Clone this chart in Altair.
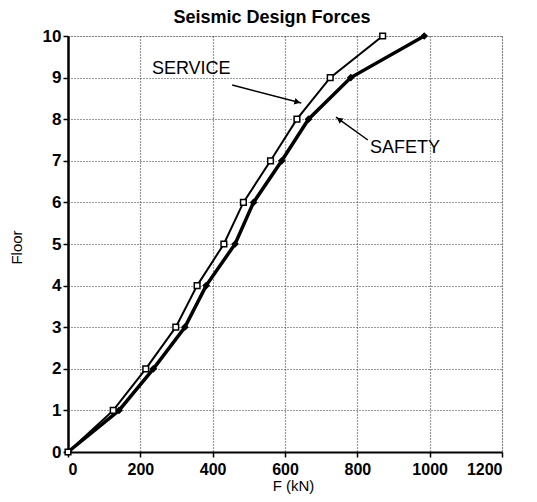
import math
import altair as alt
import pandas as pd

floors = [0, 1, 2, 3, 4, 5, 6, 7, 8, 9, 10]
service = [0, 125, 215, 298, 357, 431, 485, 560, 633, 725, 870]
safety = [0, 141, 236, 323, 382, 462, 513, 591, 665, 782, 985]

labels = ["SERVICE", "SAFETY"]
label_x = [232, 835]
label_y = [9.21, 7.31]
arrow_x0 = [454, 829]
arrow_y0 = [8.82, 7.50]
arrow_x1 = [645, 741]
arrow_y1 = [8.39, 8.05]

W, H = 434, 416
XMAX, YMAX = 1200, 10
px_x = W / XMAX
px_y = H / YMAX

df = pd.DataFrame({"floor": floors * 2,
                   "F": service + safety,
                   "series": ["SERVICE"] * len(floors) + ["SAFETY"] * len(floors)})
lab = pd.DataFrame({"label": labels, "x": label_x, "y": label_y})
arr = pd.DataFrame({"x0": arrow_x0, "y0": arrow_y0, "x1": arrow_x1, "y1": arrow_y1})
heads = []
for a, b, c, d in zip(arrow_x0, arrow_y0, arrow_x1, arrow_y1):
    dxp = (c - a) * px_x
    dyp = -(d - b) * px_y
    L = math.hypot(dxp, dyp)
    ang = math.degrees(math.atan2(dxp, -dyp)) % 360
    back = 4
    hx = c - dxp / L * back / px_x
    hy = d + dyp / L * back / px_y
    heads.append({"x": hx, "y": hy, "angle": ang})
hd = pd.DataFrame(heads)

FONT = "Liberation Sans"
xs = alt.Scale(domain=[0, XMAX], nice=False)
ys = alt.Scale(domain=[0, YMAX], nice=False)

xaxis = alt.Axis(values=list(range(0, 1201, 200)), format="d", title="F (kN)", grid=True,
                 gridDash=[1, 2], gridColor="#333", gridWidth=1.2,
                 domainColor="black", domainWidth=2, tickColor="black", tickSize=5, tickWidth=1.5,
                 labelFont=FONT, labelFontSize=16, labelFontWeight="bold", labelColor="black",
                 labelPadding=4, titleFont=FONT, titleFontSize=15, titleFontWeight="normal",
                 titleColor="black", titleX=225, titleY=33, titleBaseline="middle", titleAlign="center")
yaxis = alt.Axis(values=floors, format="d", title="Floor", grid=True,
                 gridDash=[1, 2], gridColor="#333", gridWidth=1.2,
                 domainColor="black", domainWidth=2.5, tickColor="black", tickSize=5, tickWidth=1.5,
                 labelFont=FONT, labelFontSize=17, labelFontWeight="bold", labelColor="black",
                 labelPadding=2, titleFont=FONT, titleFontSize=15, titleFontWeight="normal",
                 titleColor="black", titleX=-52, titleY=H / 2 + 3, titleAngle=-90,
                 titleBaseline="middle", titleAlign="center")

base = alt.Chart(df)
svc_line = base.transform_filter("datum.series == 'SERVICE'").mark_line(
    color="black", strokeWidth=2).encode(
    x=alt.X("F:Q", scale=xs, axis=xaxis), y=alt.Y("floor:Q", scale=ys, axis=yaxis), order="floor:Q")
saf_line = base.transform_filter("datum.series == 'SAFETY'").mark_line(
    color="black", strokeWidth=3.5).encode(
    x=alt.X("F:Q", scale=xs), y=alt.Y("floor:Q", scale=ys), order="floor:Q")
saf_pts = base.transform_filter("datum.series == 'SAFETY'").mark_point(
    shape="diamond", filled=True, color="black", size=60, opacity=1).encode(
    x=alt.X("F:Q", scale=xs), y=alt.Y("floor:Q", scale=ys))
svc_pts = base.transform_filter("datum.series == 'SERVICE'").mark_point(
    shape="square", filled=True, fill="white", stroke="black", strokeWidth=1.5, size=32, opacity=1).encode(
    x=alt.X("F:Q", scale=xs), y=alt.Y("floor:Q", scale=ys))

texts = alt.Chart(lab).mark_text(font=FONT, fontSize=18, align="left", baseline="middle",
                                 color="black").encode(
    x=alt.X("x:Q", scale=xs), y=alt.Y("y:Q", scale=ys), text="label:N")
arrows = alt.Chart(arr).mark_rule(color="black", strokeWidth=1.5).encode(
    x=alt.X("x0:Q", scale=xs), y=alt.Y("y0:Q", scale=ys), x2="x1:Q", y2="y1:Q")
arrowheads = alt.Chart(hd).mark_point(shape="triangle-up", filled=True, color="black",
                                      size=45, opacity=1).encode(
    x=alt.X("x:Q", scale=xs), y=alt.Y("y:Q", scale=ys), angle=alt.Angle("angle:Q", scale=None))

chart = alt.layer(svc_line, saf_line, saf_pts, svc_pts, arrows, arrowheads, texts).properties(
    width=W, height=H,
    title=alt.TitleParams("Seismic Design Forces", font=FONT, fontSize=18, fontWeight="bold",
                          color="black", anchor="middle", dx=-13, offset=0),
    autosize=alt.AutoSizeParams(type="none"),
    padding={"left": 60, "top": 28, "right": 27, "bottom": 42},
).configure_view(stroke=None).configure(background="white")

chart.save("out.html", embed_options={"renderer": "svg", "actions": False})
